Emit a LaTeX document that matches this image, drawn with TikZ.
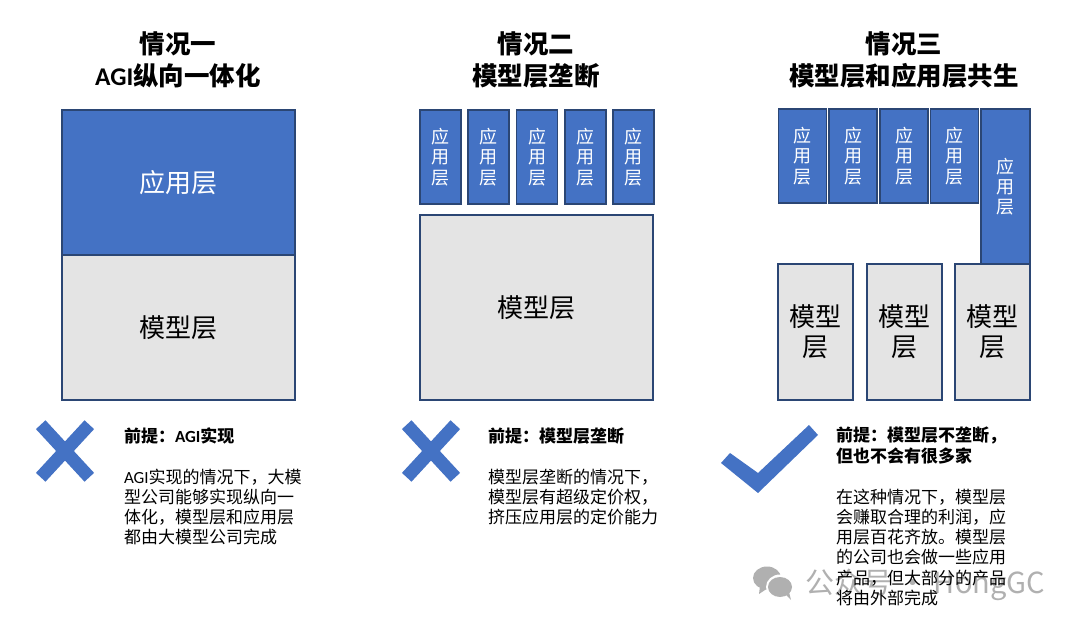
\documentclass[tikz,border=0pt]{standalone}
\usepackage{fontspec}
\usepackage{tikz}
\usetikzlibrary{positioning}
\setmainfont{Noto Sans CJK SC}
\newfontfamily\cjk{Noto Sans CJK SC}
\newfontfamily\latinpart{Carlito}
\definecolor{layerblue}{HTML}{4472C4}
\definecolor{layergray}{HTML}{E4E4E4}
\definecolor{layeredge}{HTML}{2B4674}
\definecolor{markgray}{HTML}{B0B0B0}
\newcommand{\fsize}[2]{\fontsize{#1}{#2}\selectfont}

\begin{document}
\begin{tikzpicture}[x=1pt, y=-1pt, every node/.style={inner sep=0pt, outer sep=0pt, align=center, font=\cjk},
  titlenode/.style={font=\cjk\bfseries\fsize{25.5}{32}},
  appbox/.style={draw=layeredge, fill=layerblue, line width=1.7pt, text=white},
  modelbox/.style={draw=layeredge, fill=layergray, line width=1.7pt, text=black},
  bignote/.style={font=\cjk\fsize{26}{30}},
  smallnote/.style={font=\cjk\fsize{18}{20.3}},
  headnote/.style={anchor=north west, align=left, font=\cjk\bfseries\fsize{17}{24}},
  bodynote/.style={anchor=north west, align=left, font=\cjk\fsize{17}{20.2}},
  signline/.style={draw=layerblue, line width=13pt}]
  \useasboundingbox (0,0) rectangle (1080,628);

  % Watermark
  \fill[markgray] (767,578) ellipse [x radius=14, y radius=11.5];
  \fill[markgray] (760,586) -- (759,594) -- (768,588) -- cycle;
  \fill[white] (780,587) ellipse [x radius=14, y radius=12.5];
  \fill[markgray] (780,587) ellipse [x radius=12, y radius=10];
  \fill[markgray] (785,594) -- (791,600) -- (789,592) -- cycle;
  \node[text=markgray, anchor=west, font=\cjk\fsize{29}{32}] (markname) at (805,585) {公众号 · HongGC};

  % Case one
  \node[titlenode] (titleA) at (178,59.5) {情况一\\{\latinpart AGI}纵向一体化};
  \node[appbox, minimum width=233, minimum height=145, font=\cjk\fsize{26}{30}] (appA) at (178.5,182.5) {应用层};
  \node[modelbox, minimum width=233, minimum height=145, font=\cjk\fsize{26}{30}] (modelA) at (178.5,327.5) {模型层};
  \draw[signline] (40.7,424.7) -- (89.3,477.3);
  \draw[signline] (89.3,424.7) -- (40.7,477.3);
  \node[headnote] (headA) at (124,428) {前提：{\latinpart AGI}实现};
  \node[bodynote] (bodyA) at (124,469) {{\latinpart AGI}实现的情况下，大模\\型公司能够实现纵向一\\体化，模型层和应用层\\都由大模型公司完成};

  % Case two
  \node[titlenode] (titleB) at (536,59.5) {情况二\\模型层垄断};
  \node[appbox, smallnote, minimum width=41, minimum height=94] (appBa) at (440.5,157) {应\\用\\层};
  \node[appbox, smallnote, minimum width=41, minimum height=94] (appBb) at (488.5,157) {应\\用\\层};
  \node[appbox, smallnote, minimum width=41, minimum height=94] (appBc) at (537,157) {应\\用\\层};
  \node[appbox, smallnote, minimum width=41, minimum height=94] (appBd) at (585.5,157) {应\\用\\层};
  \node[appbox, smallnote, minimum width=41, minimum height=94] (appBe) at (633.5,157) {应\\用\\层};
  \node[modelbox, minimum width=233, minimum height=185, font=\cjk\fsize{26}{30}] (modelB) at (536.5,307.5) {模型层};
  \draw[signline] (406.7,424.7) -- (455.3,477.3);
  \draw[signline] (455.3,424.7) -- (406.7,477.3);
  \node[headnote] (headB) at (488,428) {前提：模型层垄断};
  \node[bodynote] (bodyB) at (488,469) {模型层垄断的情况下，\\模型层有超级定价权，\\挤压应用层的定价能力};

  % Case three
  \node[titlenode] (titleC) at (904,59.5) {情况三\\模型层和应用层共生};
  \node[appbox, smallnote, minimum width=48, minimum height=94] (appCa) at (802.5,156) {应\\用\\层};
  \node[appbox, smallnote, minimum width=48, minimum height=94] (appCb) at (853,156) {应\\用\\层};
  \node[appbox, smallnote, minimum width=48, minimum height=94] (appCc) at (904,156) {应\\用\\层};
  \node[appbox, smallnote, minimum width=48, minimum height=94] (appCd) at (954.5,156) {应\\用\\层};
  \node[appbox, smallnote, minimum width=48.5, minimum height=155] (appCe) at (1005.5,186.5) {应\\用\\层};
  \node[modelbox, bignote, minimum width=75, minimum height=136] (modelCa) at (815.5,332) {模型\\层};
  \node[modelbox, bignote, minimum width=75, minimum height=136] (modelCb) at (904.5,332) {模型\\层};
  \node[modelbox, bignote, minimum width=75, minimum height=136] (modelCc) at (992.5,332) {模型\\层};
  \fill[layerblue] (721,463) -- (730,453) -- (758,473) -- (809,425) -- (818,435) -- (758,493) -- cycle;
  \node[headnote, font=\cjk\bfseries\fsize{17}{20.5}] (headC) at (836,427) {前提：模型层不垄断，\\但也不会有很多家};
  \node[bodynote] (bodyC) at (836,489) {在这种情况下，模型层\\会赚取合理的利润，应\\用层百花齐放。模型层\\的公司也会做一些应用\\产品，但大部分的产品\\将由外部完成};
\end{tikzpicture}
\end{document}
